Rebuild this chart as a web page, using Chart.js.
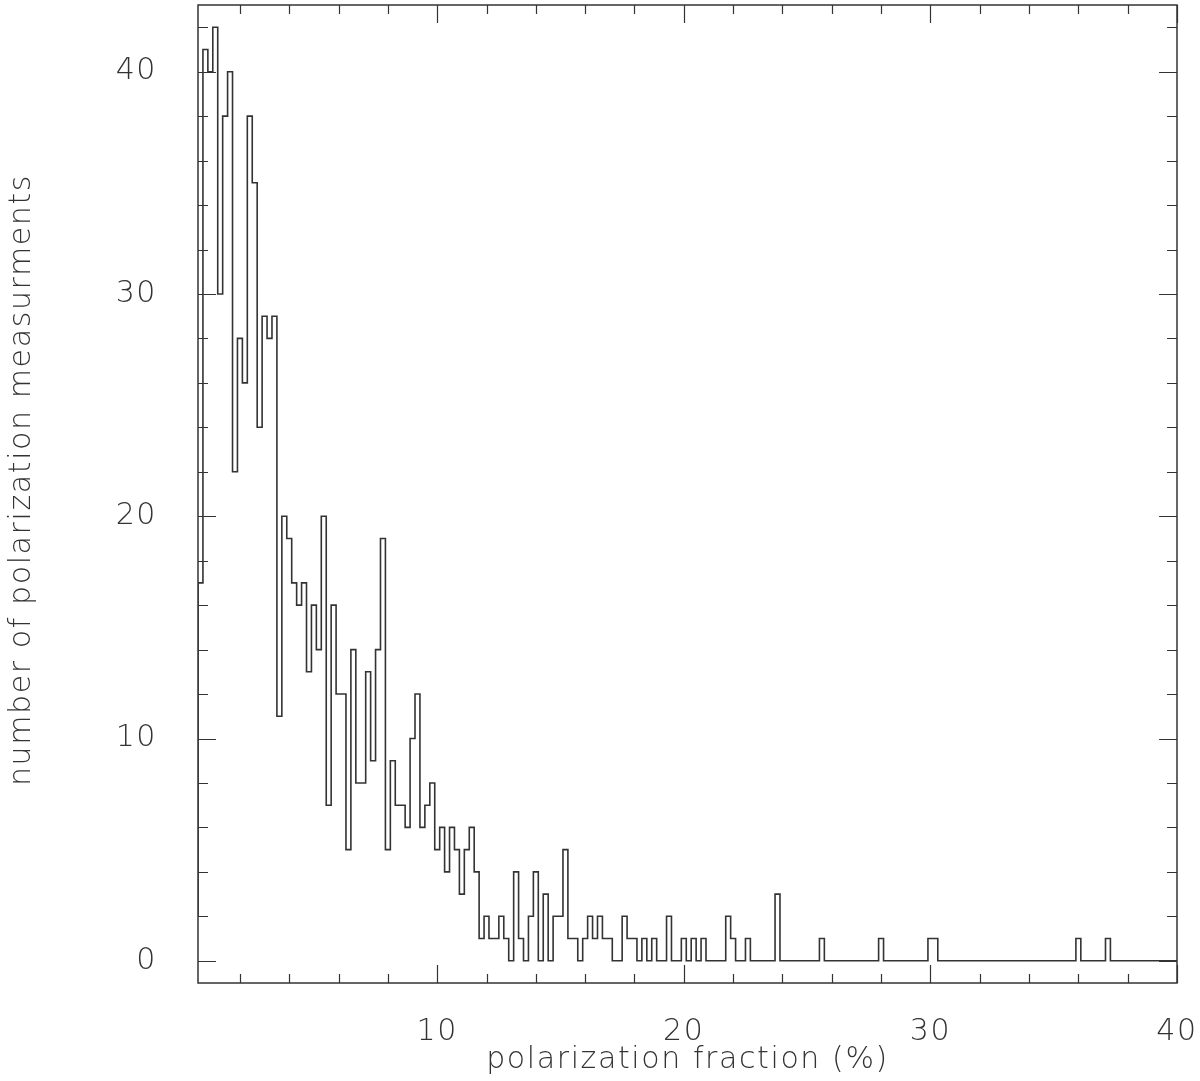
<!DOCTYPE html>
<html>
<head>
<meta charset="utf-8">
<script src="https://cdn.jsdelivr.net/npm/chart.js@4.4.1/dist/chart.umd.min.js"></script>
<style>
  html, body { margin: 0; padding: 0; background: #fff; }
  #wrap { width: 1200px; height: 1081px; }
</style>
</head>
<body>
<div id="wrap"><canvas id="histo" width="1200" height="1081"></canvas></div>
<script>
// histogram: bins of 0.2 % starting at 0.3 %
const binStart = 0.3;
const binWidth = 0.2;
const counts = [
  2,17,41,40,42,30,38,40,22,28,26,38,35,24,29,28,29,11,20,19,
  17,16,17,13,16,14,20,7,16,12,12,5,14,8,8,13,9,14,19,5,
  9,7,7,6,10,12,6,7,8,5,6,4,6,5,3,5,6,4,1,2,
  1,1,2,1,0,4,1,0,2,4,0,3,0,2,2,5,1,1,0,1,
  2,1,2,1,1,0,0,2,1,1,0,1,0,1,0,0,2,0,0,1,
  0,1,0,1,0,0,0,0,2,1,0,0,1,0,0,0,0,0,3,0,
  0,0,0,0,0,0,0,1,0,0,0,0,0,0,0,0,0,0,0,1,
  0,0,0,0,0,0,0,0,0,1,1,0,0,0,0,0,0,0,0,0,
  0,0,0,0,0,0,0,0,0,0,0,0,0,0,0,0,0,0,0,1,
  0,0,0,0,0,1,0,0,0,0,0,0,0,0,0,0,0,0,0
];
const xRange = [0.3, 40];
const yRange = [-1, 43];
const xLabelTicks = [10, 20, 30, 40];
const yLabelTicks = [0, 10, 20, 30, 40];
const minorStep = 2;

const xTitle = 'polarization fraction (%)';
const yTitle = 'number of polarization measurments';

// step points: left edge of every bin, plus closing point at the right edge
const points = counts.map((c, i) => ({ x: binStart + i * binWidth, y: c }));
points.push({ x: xRange[1], y: counts[counts.length - 1] });

function stepTicks(lo, hi) {
  let out = [];
  for (let v = Math.ceil(lo / minorStep) * minorStep; v <= hi + 1e-9; v += minorStep) out.push(v);
  return out;
}

const ink = '#333';
const fontFam = "'DejaVu Sans', sans-serif";
const labelFont = { family: fontFam, size: 30, weight: '200' };

function noPad(s) {
  s.paddingLeft = 0; s.paddingRight = 0;
  s.paddingTop = 0; s.paddingBottom = 0;
}

// wider, plotter-like lettering
const spacing = {
  id: 'spacing',
  beforeDraw(chart) { chart.ctx.letterSpacing = '1.6px'; }
};

// frame + inward ticks on all four sides, and the y title (sits a bit above centre)
const frameTicks = {
  id: 'frameTicks',
  afterDraw(chart) {
    const { ctx, chartArea: a, scales } = chart;
    const xs = scales.x, ys = scales.y;
    ctx.save();
    ctx.strokeStyle = ink;
    ctx.lineWidth = 1.5;
    ctx.strokeRect(a.left, a.top, a.right - a.left, a.bottom - a.top);
    ctx.beginPath();
    stepTicks(xRange[0], xRange[1]).forEach(v => {
      const px = Math.round(xs.getPixelForValue(v)) + 0.5;
      const len = xLabelTicks.includes(v) ? 18 : 9;
      ctx.moveTo(px, a.bottom); ctx.lineTo(px, a.bottom - len);
      ctx.moveTo(px, a.top); ctx.lineTo(px, a.top + len);
    });
    stepTicks(yRange[0], yRange[1]).forEach(v => {
      const py = Math.round(ys.getPixelForValue(v)) + 0.5;
      const len = yLabelTicks.includes(v) ? 18 : 10;
      ctx.moveTo(a.left, py); ctx.lineTo(a.left + len, py);
      ctx.moveTo(a.right, py); ctx.lineTo(a.right - len, py);
    });
    ctx.lineWidth = 1.2;
    ctx.stroke();

    ctx.translate(22, (a.top + a.bottom) / 2 - 14);
    ctx.rotate(-Math.PI / 2);
    ctx.font = Chart.helpers.toFont(labelFont).string;
    ctx.fillStyle = ink;
    ctx.textAlign = 'center';
    ctx.textBaseline = 'middle';
    ctx.fillText(yTitle, 0, 0);
    ctx.restore();
  }
};

new Chart(document.getElementById('histo'), {
  type: 'line',
  data: {
    datasets: [{
      data: points,
      stepped: 'after',
      borderColor: ink,
      borderWidth: 1.6,
      pointRadius: 0,
      fill: false
    }]
  },
  options: {
    responsive: false,
    animation: false,
    layout: { padding: { top: 5, right: 23, left: 0, bottom: 0 } },
    plugins: { legend: { display: false }, tooltip: { enabled: false } },
    scales: {
      x: {
        type: 'linear',
        min: xRange[0],
        max: xRange[1],
        grid: { display: false },
        border: { display: false },
        afterBuildTicks: s => { s.ticks = xLabelTicks.map(v => ({ value: v })); },
        afterFit: s => { s.height = 98; noPad(s); },
        ticks: {
          autoSkip: false,
          maxRotation: 0,
          padding: 23,
          color: ink,
          font: labelFont
        },
        title: {
          display: true,
          text: xTitle,
          color: ink,
          padding: { top: 0, bottom: 3 },
          font: labelFont
        }
      },
      y: {
        type: 'linear',
        min: yRange[0],
        max: yRange[1],
        grid: { display: false },
        border: { display: false },
        afterBuildTicks: s => { s.ticks = yLabelTicks.map(v => ({ value: v })); },
        afterFit: s => { s.width = 198; noPad(s); },
        ticks: {
          autoSkip: false,
          padding: 33,
          color: ink,
          font: labelFont
        },
        title: { display: false }
      }
    }
  },
  plugins: [spacing, frameTicks]
});
</script>
</body>
</html>
